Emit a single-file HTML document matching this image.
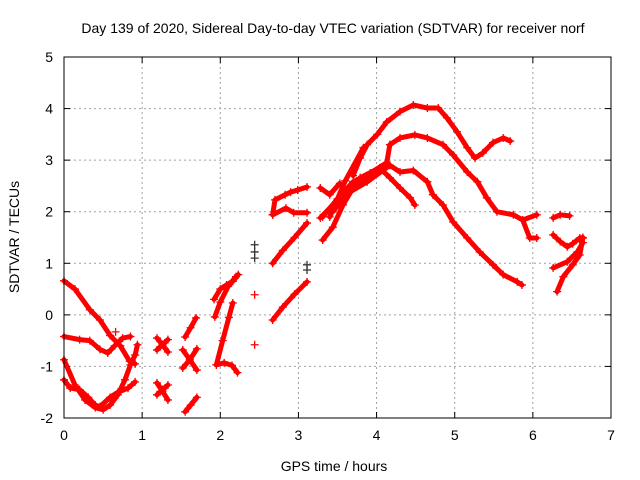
<!DOCTYPE html>
<html><head><meta charset="utf-8"><style>
body{margin:0;background:#fff}
svg{display:block;font-family:"Liberation Sans",sans-serif}
</style></head><body>
<svg id="chart" width="640" height="480" viewBox="0 0 640 480">
<rect x="0" y="0" width="640" height="480" fill="#fff"/>
<text x="333" y="33" font-size="14" text-anchor="middle">Day 139 of 2020, Sidereal Day-to-day VTEC variation (SDTVAR) for receiver norf</text>
<text x="334" y="471" font-size="14" text-anchor="middle">GPS time / hours</text>
<text x="0" y="0" font-size="14" text-anchor="middle" transform="translate(19,237) rotate(-90)">SDTVAR / TECUs</text>
<g id="grid"></g>
<g id="ticks"></g>
<g id="series"></g>
<rect x="64" y="57" width="547" height="361" fill="none" stroke="#000" stroke-width="1"/>
</svg>
<script>
const xTicks=[0,1,2,3,4,5,6,7];
const yTicks=[-2,-1,0,1,2,3,4,5];
const trackA_t=[0,0.14,0.33,0.46,0.59,0.72,0.84,0.91];
const trackA_v=[0.66,0.5,0.1,-0.1,-0.4,-0.6,-0.9,-0.95];
const trackB_t=[0,0.2,0.33,0.46,0.56,0.65,0.75,0.85];
const trackB_v=[-0.42,-0.48,-0.5,-0.67,-0.74,-0.6,-0.45,-0.42];
const trackC_t=[0,0.14,0.27,0.4,0.5,0.59,0.69,0.78,0.85,0.91,0.94];
const trackC_v=[-0.87,-1.36,-1.65,-1.8,-1.84,-1.75,-1.55,-1.26,-0.97,-0.78,-0.58];
const trackD_t=[0,0.08,0.2,0.31,0.4,0.46,0.59,0.69,0.82,0.91];
const trackD_v=[-1.26,-1.42,-1.45,-1.6,-1.75,-1.78,-1.6,-1.5,-1.42,-1.3];
const e1_t=[1.19,1.26,1.33], e1_v=[-0.45,-0.58,-0.72];
const e2_t=[1.19,1.26,1.33], e2_v=[-0.68,-0.58,-0.48];
const e3_t=[1.19,1.26,1.33], e3_v=[-1.32,-1.48,-1.65];
const e4_t=[1.19,1.26,1.33], e4_v=[-1.55,-1.45,-1.36];
const f1_t=[1.52,1.61,1.70], f1_v=[-0.68,-0.87,-1.07];
const f2_t=[1.52,1.61,1.70], f2_v=[-1.03,-0.87,-0.66];
const f3_t=[1.55,1.62,1.69], f3_v=[-0.43,-0.25,-0.06];
const f4_t=[1.55,1.62,1.70], f4_v=[-1.88,-1.75,-1.6];
const g1_t=[1.92,2.0,2.08,2.16,2.23], g1_v=[0.3,0.5,0.58,0.65,0.78];
const g2_t=[1.93,2.0,2.1,2.2], g2_v=[-0.04,0.25,0.55,0.74];
const g3_t=[1.95,2.03,2.11,2.16], g3_v=[-0.97,-0.5,-0.05,0.23];
const g4_t=[1.95,2.05,2.15,2.22], g4_v=[-0.97,-0.93,-0.98,-1.12];
const h1_t=[2.67,2.8,2.95,3.11], h1_v=[1.0,1.25,1.5,1.78];
const h2_t=[2.67,2.8,2.95,3.11], h2_v=[-0.1,0.15,0.4,0.64];
const h3_t=[2.67,2.7,2.83,2.9,2.99,3.11], h3_v=[1.94,2.23,2.33,2.38,2.42,2.48];
const h4_t=[2.67,2.84,2.94,3.11], h4_v=[1.94,2.07,1.98,1.98];
const topArc_t=[3.70,3.79,3.88,4.01,4.13,4.30,4.47,4.65,4.79,4.90,5.03,5.16,5.26,5.36,5.49,5.62,5.71];
const topArc_v=[2.7,3.04,3.3,3.5,3.74,3.94,4.07,4.01,4.01,3.82,3.55,3.24,3.04,3.14,3.34,3.43,3.37];
const rise_t=[3.31,3.44,3.57,3.70,3.92,4.13], rise_v=[1.45,1.7,2.13,2.46,2.7,2.9];
const arc2_t=[3.31,3.50,3.70,3.92,4.13,4.17,4.30,4.49,4.65,4.85,4.98,5.16,5.29,5.41,5.54,5.75,5.87,6.05];
const arc2_v=[1.9,2.25,2.58,2.75,2.95,3.3,3.43,3.49,3.43,3.3,3.1,2.77,2.58,2.27,2.0,1.94,1.84,1.94];
const arc2b_t=[5.87,5.96,6.05], arc2b_v=[1.84,1.49,1.49];
const arc3_t=[3.28,3.53,3.88,4.17,4.30,4.47,4.65,4.72,4.85,4.98,5.16,5.32,5.49,5.62,5.80,5.86];
const arc3_v=[1.88,2.27,2.58,2.9,2.77,2.8,2.58,2.33,2.13,1.8,1.49,1.22,0.97,0.78,0.64,0.58];
const arc4_t=[3.44,3.79,4.04,4.17,4.30,4.43,4.49], arc4_v=[2.0,2.66,2.85,2.66,2.46,2.27,2.13];
const s1_t=[3.28,3.40,3.53], s1_v=[2.46,2.33,2.55];
const s2_t=[3.40,3.60,3.83], s2_v=[1.9,2.6,3.24];
const i1_t=[6.26,6.35,6.47], i1_v=[1.88,1.94,1.92];
const j1_t=[6.26,6.35,6.44,6.51,6.60,6.64], j1_v=[1.55,1.42,1.32,1.38,1.49,1.5];
const k1_t=[6.31,6.39,6.51,6.60,6.64], k1_v=[0.45,0.74,0.97,1.16,1.49];
const l1_t=[6.26,6.44,6.57,6.64], l1_v=[0.91,1.03,1.22,1.4];
const stray_t=[0.66,2.44,2.44,2.44,2.44,2.44,3.11,3.11];
const stray_v=[-0.33,1.36,1.22,1.1,0.39,-0.58,0.87,0.97];

const tracks=[[trackA_t,trackA_v],[trackB_t,trackB_v],[trackC_t,trackC_v],[trackD_t,trackD_v],
[e1_t,e1_v],[e2_t,e2_v],[e3_t,e3_v],[e4_t,e4_v],[f1_t,f1_v],[f2_t,f2_v],[f3_t,f3_v],[f4_t,f4_v],
[g1_t,g1_v],[g2_t,g2_v],[g3_t,g3_v],[g4_t,g4_v],[h1_t,h1_v],[h2_t,h2_v],[h3_t,h3_v],[h4_t,h4_v],
[topArc_t,topArc_v],[rise_t,rise_v],[arc2_t,arc2_v],[arc2b_t,arc2b_v],[arc3_t,arc3_v],[arc4_t,arc4_v],
[s1_t,s1_v],[s2_t,s2_v],[i1_t,i1_v],[j1_t,j1_v],[k1_t,k1_v],[l1_t,l1_v]];

const X0=64,X1=611,Y0=418,Y1=57;
function xs(t){return X0+(t-0)/(7-0)*(X1-X0);}
function ys(v){return Y0-(v+2)/(5+2)*(Y0-Y1);}
const NS="http://www.w3.org/2000/svg";
const grid=document.getElementById('grid'),ticks=document.getElementById('ticks'),ser=document.getElementById('series');
function mk(tag,attrs,parent){const e=document.createElementNS(NS,tag);for(const k in attrs)e.setAttribute(k,attrs[k]);parent.appendChild(e);return e;}
xTicks.forEach(t=>{
  const x=xs(t);
  if(t>0&&t<7){const g=mk('line',{x1:x,y1:Y1,x2:x,y2:Y0,stroke:'#a0a0a0','stroke-dasharray':'2,3'},grid);
  
  }
  mk('line',{x1:x,y1:Y0,x2:x,y2:Y0-6,stroke:'#000'},ticks);
  mk('line',{x1:x,y1:Y1,x2:x,y2:Y1+6,stroke:'#000'},ticks);
  const l=mk('text',{x:x,y:Y0+22,'font-size':14,'text-anchor':'middle'},ticks);l.textContent=t;
  
  
});
yTicks.forEach(v=>{
  const y=ys(v);
  if(v>-2&&v<5){const g=mk('line',{x1:X0,y1:y,x2:X1,y2:y,stroke:'#a0a0a0','stroke-dasharray':'2,3'},grid);
  
  }
  mk('line',{x1:X0,y1:y,x2:X0+6,y2:y,stroke:'#000'},ticks);
  mk('line',{x1:X1,y1:y,x2:X1-6,y2:y,stroke:'#000'},ticks);
  const l=mk('text',{x:X0-11,y:y+5,'font-size':14,'text-anchor':'end'},ticks);l.textContent=v;
  
  
});
function plus(x,y,col,parent){
  const p=mk('path',{d:`M${x-4},${y}H${x+4}M${x},${y-4}V${y+4}`,stroke:col,'stroke-width':1.3,fill:'none'},parent);
  
  
}
tracks.forEach(([ts,vs])=>{
  const pts=ts.map((t,i)=>xs(t)+','+ys(vs[i])).join(' ');
  const pl=mk('polyline',{points:pts,fill:'none',stroke:'#ff0000','stroke-width':5,'stroke-linejoin':'round','stroke-linecap':'round'},ser);
  
  
  ts.forEach((t,i)=>plus(xs(t),ys(vs[i]),'#ff0000',ser));
});
stray_t.forEach((t,i)=>plus(xs(t),ys(stray_v[i]),(stray_v[i]>0.8||stray_v[i]<-0.5&&t<1)?'#333':'#ff0000',ser));
</script>
</body></html>
